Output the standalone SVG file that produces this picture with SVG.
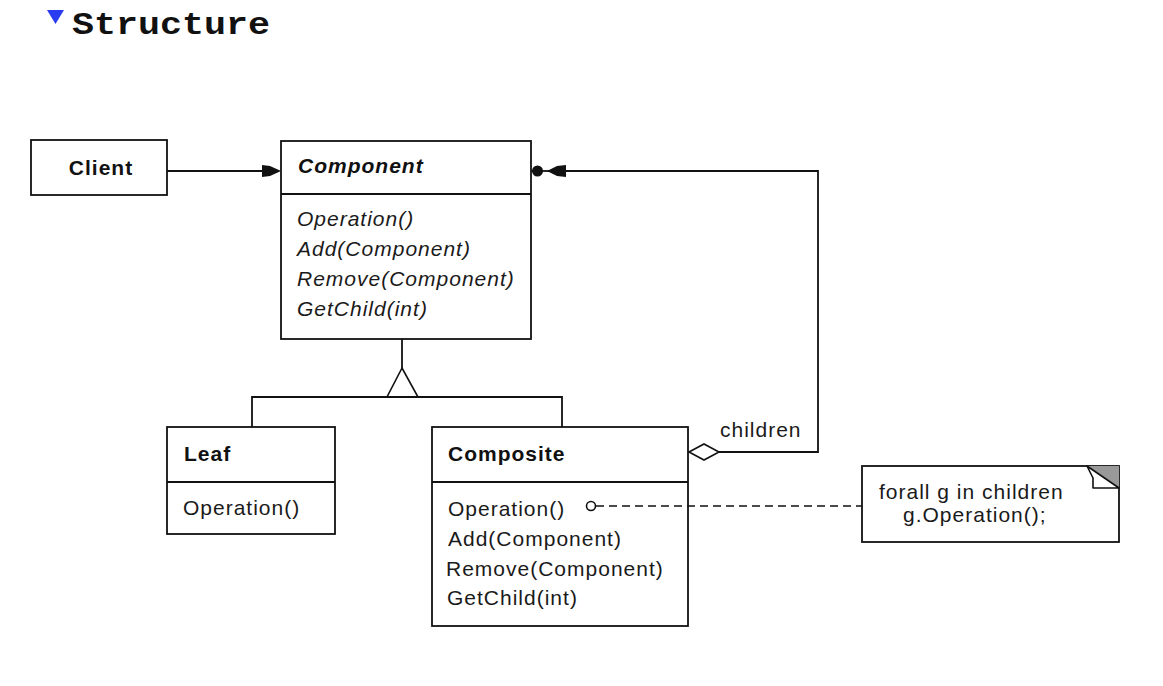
<svg xmlns="http://www.w3.org/2000/svg" width="1163" height="686" viewBox="0 0 1163 686">
<style>
.box{fill:#fff;stroke:#111;stroke-width:1.8}
.ln{fill:none;stroke:#111;stroke-width:1.8}
.t{font-family:"Liberation Sans",Arial,sans-serif;font-size:21px;letter-spacing:1px;fill:#1a1a1a}
.b{font-weight:bold;fill:#111}
.i{font-style:italic}
.title{font-family:"Liberation Mono","Courier New",monospace;font-size:32px;font-weight:bold;fill:#111}
</style>
<rect width="1163" height="686" fill="#fff"/>
<g id="title">
<polygon points="47,10 64,10 55.5,24" fill="#2a3cf0"/>
<text class="title" x="72" y="34" textLength="198" lengthAdjust="spacingAndGlyphs">Structure</text>
</g>
<g id="client">
<rect class="box" x="31" y="140" width="136" height="55"/>
<text class="t b" x="101" y="175" text-anchor="middle">Client</text>
</g>
<g id="component">
<rect class="box" x="281" y="141" width="250" height="198"/>
<line class="ln" x1="281" y1="194" x2="531" y2="194"/>
<text class="t b i" x="298" y="173">Component</text>
<text class="t i" x="297" y="226">Operation()</text>
<text class="t i" x="297" y="256">Add(Component)</text>
<text class="t i" x="297" y="286">Remove(Component)</text>
<text class="t i" x="297" y="316">GetChild(int)</text>
</g>
<g id="leaf">
<rect class="box" x="167" y="427" width="168" height="107"/>
<line class="ln" x1="167" y1="482" x2="335" y2="482"/>
<text class="t b" x="184" y="461">Leaf</text>
<text class="t" x="183" y="515">Operation()</text>
</g>
<g id="composite">
<rect class="box" x="432" y="427" width="256" height="199"/>
<line class="ln" x1="432" y1="482" x2="688" y2="482"/>
<text class="t b" x="448" y="461">Composite</text>
<text class="t" x="448" y="516">Operation()</text>
<text class="t" x="448" y="546">Add(Component)</text>
<text class="t" x="446" y="576">Remove(Component)</text>
<text class="t" x="447" y="605">GetChild(int)</text>
</g>
<g id="note">
<rect class="box" x="862" y="466" width="257" height="76"/>
<polygon points="1087,466 1119,466 1119,488" fill="#999"/>
<polygon points="1087,466 1119,488 1093,488 1093,478" fill="#fff" stroke="#111" stroke-width="1.6" stroke-linejoin="round"/>
<text class="t" x="879" y="499">forall g in children</text>
<text class="t" x="903" y="522">g.Operation();</text>
</g>
<g id="connectors">
<line class="ln" x1="167" y1="171" x2="264" y2="171"/>
<polygon points="262,165 270,166 281,171 270,176 262,177" fill="#111"/>
<polyline class="ln" points="548,171 818,171 818,452 719,452"/>
<line class="ln" x1="531" y1="171" x2="550" y2="171"/>
<circle cx="537.5" cy="171" r="5.5" fill="#111"/>
<polygon points="566,165 557,166 547,171 557,176 566,177" fill="#111"/>
<polygon points="689,452 704,444 719,452 704,460" fill="#fff" stroke="#111" stroke-width="1.6"/>
<text class="t" x="720" y="437">children</text>
<line class="ln" x1="402" y1="339" x2="402" y2="368"/>
<polygon points="402,368 387,397 418,397" fill="#fff" stroke="#111" stroke-width="1.6"/>
<polyline class="ln" points="252,427 252,397 562,397 562,427"/>
<line x1="596" y1="506" x2="862" y2="506" stroke="#111" stroke-width="1.6" stroke-dasharray="8,5"/>
<circle cx="591" cy="506" r="4.5" fill="#fff" stroke="#111" stroke-width="1.6"/>
</g>
</svg>
